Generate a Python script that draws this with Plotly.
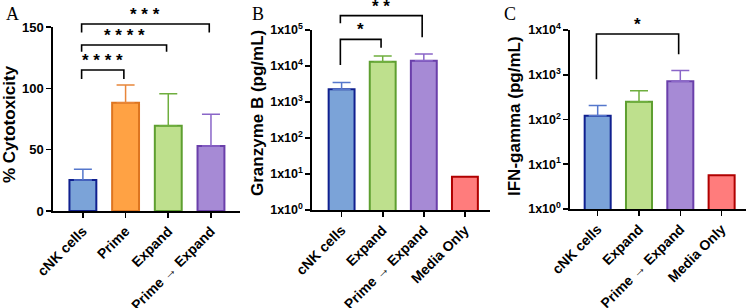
import math
import plotly.graph_objects as go

W, H = 750, 308

# ---------------- data ----------------
cat_a = ["cNK cells", "Prime", "Expand", "Prime → Expand"]
cyto_mean = [25.3, 88.3, 69.5, 53.0]
cyto_err = [8.7, 14.4, 26.0, 25.8]

cat_b = ["cNK cells", "Expand", "Prime → Expand", "Media Only"]
gzb_mean = [2250, 13200, 14000, 8.4]
gzb_err = [1250, 5800, 7500, 0]

cat_c = ["cNK cells", "Expand", "Prime → Expand", "Media Only"]
ifn_mean = [121, 250, 720, 5.7]
ifn_err = [85, 190, 530, 0]

log_tickvals_b = [1, 10, 100, 1000, 10000, 100000]
log_tickvals_c = [1, 10, 100, 1000, 10000]
log_ticktext_b = ["1x10<sup>%d</sup>" % i for i in range(6)]
log_ticktext_c = ["1x10<sup>%d</sup>" % i for i in range(5)]

# significance: (from category, to category, bracket level, left leg end, right leg end, label)
sig_a = [
    ("cNK cells", "Prime → Expand", 152.4, 145.6, 145.6, "* * *"),
    ("cNK cells", "Expand", 135.3, 129.8, 129.8, "* * * *"),
    ("cNK cells", "Prime", 114.9, 107.6, 107.6, "* * * *"),
]
sig_b = [
    ("cNK cells", "Prime → Expand", 10**5.40, 10**5.19, 10**4.80, "* *"),
    ("cNK cells", "Expand", 10**4.74, 10**4.03, 10**4.51, "*"),
]
sig_c = [
    ("cNK cells", "Prime → Expand", 10**3.91, 10**2.90, 10**3.46, "*"),
]

# ---------------- styles ----------------
fill = {"cNK cells": "#7BA3D8", "Prime": "#FFA244", "Expand": "#BEE08D",
        "Prime → Expand": "#A68AD5", "Media Only": "#FF7C7C"}
edge = {"cNK cells": "#10208F", "Prime": "#DD7520", "Expand": "#5E9F30",
        "Prime → Expand": "#6A3FAA", "Media Only": "#B00000"}
errc = {"cNK cells": "#5577CC", "Prime": "#E8863A", "Expand": "#6FAE3E",
        "Prime → Expand": "#8A66C8", "Media Only": "#B00000"}

FONT = "Liberation Sans, Arial, sans-serif"

# pixel layout -> paper
def px(x):
    return x / W

def py(y):
    return 1 - y / H

panels = [
    dict(xd=(53, 240), yd=(211, 27), xr=(-0.70, 3.68), yr=(0, 150), log=False,
         title_xy=(9, 124)),
    dict(xd=(312, 490), yd=(210, 30), xr=(-0.72, 3.61), yr=(0, 5), log=True,
         title_xy=(258, 113)),
    dict(xd=(570, 746), yd=(209, 30), xr=(-0.67, 3.59), yr=(0, 4), log=True,
         title_xy=(514, 116)),
]

fig = go.Figure()

datasets = [
    (cat_a, cyto_mean, cyto_err),
    (cat_b, gzb_mean, gzb_err),
    (cat_c, ifn_mean, ifn_err),
]

for i, (cats, means, errs) in enumerate(datasets):
    xa = "x" if i == 0 else "x%d" % (i + 1)
    ya = "y" if i == 0 else "y%d" % (i + 1)
    for c, m, e in zip(cats, means, errs):
        fig.add_trace(go.Bar(
            x=[c], y=[m], xaxis=xa, yaxis=ya, width=0.63,
            marker=dict(color=fill[c], line=dict(color=edge[c], width=2)),
            error_y=dict(type="data", array=[e], arrayminus=[0], symmetric=False,
                         visible=e > 0, color=errc[c], thickness=1.5, width=9),
            showlegend=False, hoverinfo="skip",
        ))

def yval_to_paper(v, p):
    lo, hi = p["yr"]
    val = math.log10(v) if p["log"] else v
    frac = (val - lo) / (hi - lo)
    b, t = py(p["yd"][0]), py(p["yd"][1])
    return b + frac * (t - b)

shapes = []
annotations = []
for i, (sig, cats) in enumerate([(sig_a, cat_a), (sig_b, cat_b), (sig_c, cat_c)]):
    p = panels[i]
    xa = "x" if i == 0 else "x%d" % (i + 1)
    for c1, c2, lvl, l1, l2, lab in sig:
        x1 = cats.index(c1) - 0.03
        x2 = cats.index(c2) - 0.04
        yl = yval_to_paper(lvl, p)
        shapes.append(dict(type="path", xref=xa, yref="paper",
                           path="M %f,%f L %f,%f L %f,%f L %f,%f" % (
                               x1, yval_to_paper(l1, p), x1, yl, x2, yl, x2, yval_to_paper(l2, p)),
                           line=dict(color="black", width=1.6)))
        annotations.append(dict(x=(x1 + x2) / 2, y=yl - 2 / H, xref=xa, yref="paper",
                                text=lab, showarrow=False, yanchor="bottom",
                                font=dict(family=FONT, size=17, color="black", weight="bold")))

# panel letters
for letter, lx in [("A", 4), ("B", 250), ("C", 502)]:
    annotations.append(dict(x=px(lx), y=py(2), xref="paper", yref="paper", text=letter,
                            showarrow=False, xanchor="left", yanchor="top",
                            font=dict(family="Liberation Serif, Times New Roman, serif",
                                      size=18, color="black")))

titles = ["% Cytotoxicity", "Granzyme B (pg/mL)", "IFN-gamma (pg/mL)"]
for i, p in enumerate(panels):
    tx, ty = p["title_xy"]
    annotations.append(dict(x=px(tx), y=py(ty), xref="paper", yref="paper", text=titles[i],
                            showarrow=False, textangle=-90, xanchor="center", yanchor="middle",
                            font=dict(family=FONT, size=17, color="black", weight="bold")))

axis_common = dict(showline=True, linecolor="black", linewidth=1.6, ticks="outside",
                   ticklen=5, tickwidth=1.6, tickcolor="black", showgrid=False,
                   zeroline=False, fixedrange=True, automargin=False)

layout = dict(width=W, height=H, margin=dict(l=0, r=0, t=0, b=0, autoexpand=False),
              autosize=False,
              plot_bgcolor="white", paper_bgcolor="white", barmode="overlay",
              shapes=shapes, annotations=annotations,
              font=dict(family=FONT, color="black"))

ticks = [None, (log_tickvals_b, log_ticktext_b), (log_tickvals_c, log_ticktext_c)]
cat_lists = [cat_a, cat_b, cat_c]

for i, p in enumerate(panels):
    xk = "xaxis" if i == 0 else "xaxis%d" % (i + 1)
    yk = "yaxis" if i == 0 else "yaxis%d" % (i + 1)
    ya_anchor = "y" if i == 0 else "y%d" % (i + 1)
    xa_anchor = "x" if i == 0 else "x%d" % (i + 1)
    layout[xk] = dict(axis_common, domain=[px(p["xd"][0]), px(p["xd"][1])],
                      anchor=ya_anchor, type="category", range=list(p["xr"]),
                      categoryorder="array", categoryarray=cat_lists[i],
                      tickangle=-45,
                      tickfont=dict(family=FONT, size=14, color="black", weight="bold"))
    yd = dict(axis_common, domain=[py(p["yd"][0]), py(p["yd"][1])], anchor=xa_anchor,
              range=list(p["yr"]),
              tickfont=dict(family=FONT, size=13, color="black", weight="bold"))
    if p["log"]:
        yd.update(type="log", tickvals=ticks[i][0], ticktext=ticks[i][1],
                  tickfont=dict(family=FONT, size=12.5, color="black", weight="bold"))
    else:
        yd.update(tickvals=[0, 50, 100, 150])
    layout[yk] = yd

fig.update_layout(**layout)
fig.write_html("out.html", config={"displayModeBar": False, "staticPlot": True},
               post_script="document.body.style.margin='0';document.body.style.padding='0';")
